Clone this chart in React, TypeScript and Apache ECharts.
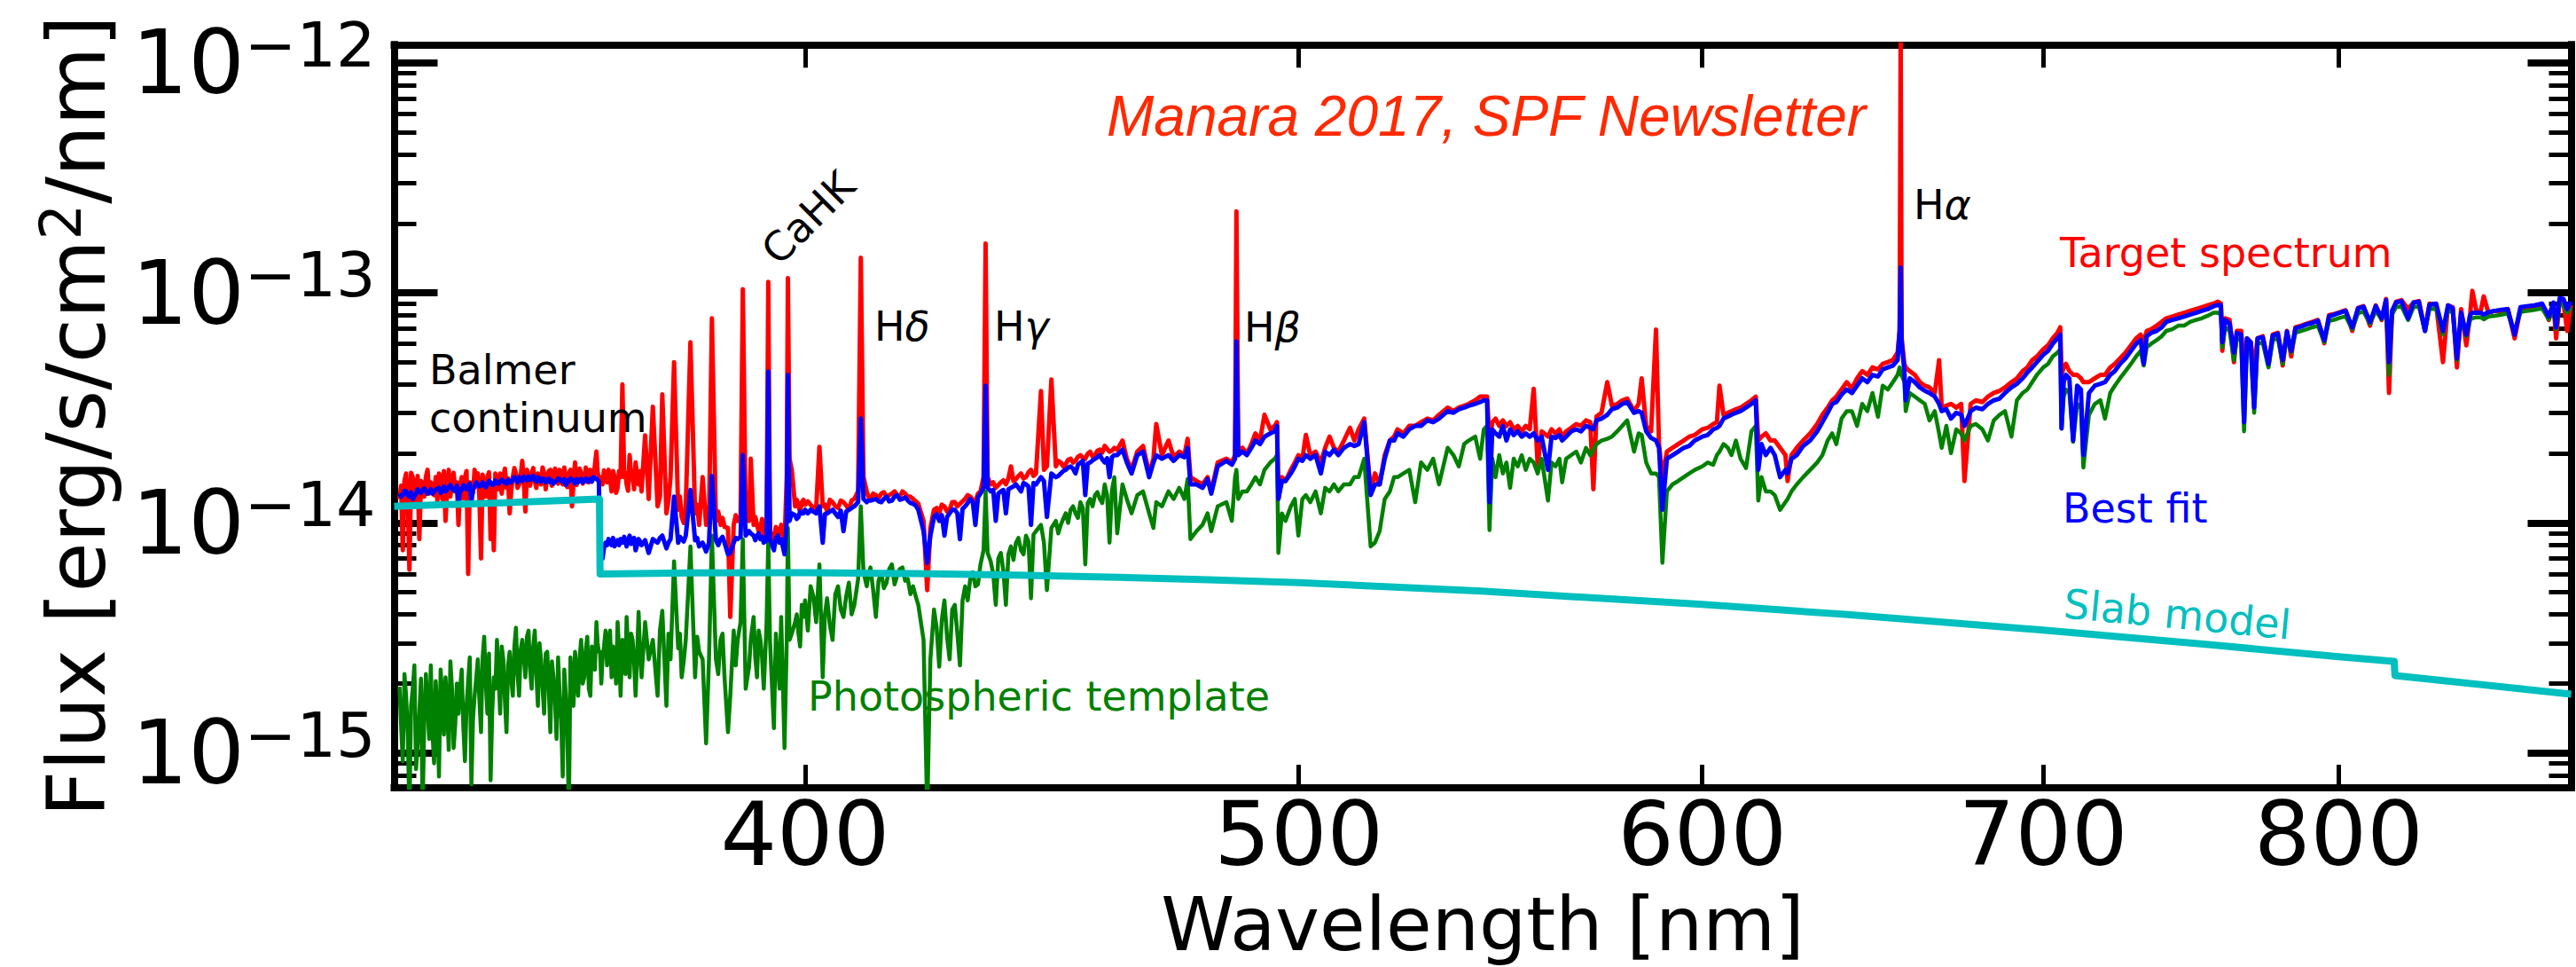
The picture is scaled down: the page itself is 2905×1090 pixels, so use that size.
import React, { useEffect, useRef } from 'react';
import * as echarts from 'echarts';

type Row = [number, number, number, number];

// Fluxes are in units of 1e-15 erg/s/cm²/nm.
// Each row: [wavelength (nm), target spectrum, best fit, photospheric template]
const balmerContinuumRows: Row[] = [
  [333.0, 12.7, 13.4, 1.94], [333.5, 7.6, 13.2, 0.92], [334.0, 16.4, 13.7, 1.77], [334.5, 6.25, 13.0, 0.55],
  [335.0, 15.8, 12.7, 1.9], [335.5, 13.7, 13.4, 0.85], [336.0, 8.5, 13.7, 1.48], [336.5, 14.7, 13.9, 0.55],
  [337.0, 15.8, 13.8, 2.2], [337.5, 13.4, 13.6, 1.15], [338.0, 14.5, 13.4, 1.23], [338.5, 15.8, 13.9, 2.05],
  [339.0, 16.4, 14.2, 0.79], [339.5, 12.7, 13.7, 1.77], [340.0, 10.2, 13.7, 2.13], [340.5, 17.0, 14.3, 1.03],
  [341.0, 15.2, 14.2, 1.9], [341.5, 13.7, 13.9, 1.33], [342.0, 9.8, 12.3, 1.48], [342.5, 15.8, 13.9, 2.3],
  [343.0, 15.8, 14.3, 0.92], [343.5, 6.0, 14.5, 2.05], [344.0, 14.7, 12.3, 0.73], [344.5, 17.0, 14.3, 1.77],
  [345.0, 16.4, 14.7, 2.55], [345.5, 7.0, 14.6, 1.23], [346.0, 14.7, 14.5, 3.2], [346.5, 15.8, 14.8, 1.48],
  [347.0, 8.5, 15.0, 0.76], [347.5, 7.6, 14.7, 2.13], [348.0, 15.2, 15.0, 3.1], [348.5, 16.4, 15.1, 1.48],
  [349.0, 15.8, 15.2, 2.55], [349.5, 14.2, 14.8, 1.23], [350.0, 11.0, 15.0, 2.75], [350.5, 15.8, 15.5, 1.77],
  [351.0, 16.4, 15.4, 3.5], [351.5, 14.7, 15.8, 1.77], [352.0, 18.6, 15.2, 3.1], [352.5, 11.2, 15.7, 2.13],
  [353.0, 15.8, 15.9, 3.4], [353.5, 16.4, 15.5, 1.9], [354.0, 15.2, 15.4, 3.4], [354.5, 16.4, 15.8, 1.6],
  [355.0, 14.7, 15.1, 2.55], [355.5, 16.4, 15.5, 1.48], [356.0, 15.8, 15.2, 2.75], [356.5, 17.0, 15.0, 1.23],
  [357.0, 15.5, 14.8, 2.13], [357.5, 16.4, 15.2, 1.15], [358.0, 17.0, 15.5, 1.77], [358.5, 14.7, 15.1, 0.79],
  [359.0, 15.8, 14.6, 1.77], [359.5, 16.4, 15.1, 0.55], [360.0, 11.8, 15.4, 2.05], [360.5, 18.3, 14.8, 2.75],
  [361.0, 15.8, 15.0, 1.77], [361.5, 16.4, 15.5, 3.1], [362.0, 15.2, 15.4, 2.13], [362.5, 16.7, 15.1, 3.2],
  [363.0, 17.0, 15.5, 1.77], [363.5, 15.8, 15.8, 2.55], [364.0, 20.4, 15.5, 3.7], [364.4, 15.8, 15.1, 2.75],
];

// Finer-scale wiggles of the Balmer continuum region
const balmerContinuumDetail: Row[] = [
  [333.25, 14.5, 13.0, 1.3], [333.75, 15.2, 13.8, 2.2], [334.25, 12.8, 13.2, 1.2], [334.75, 16.5, 13.6, 1.6],
  [335.25, 12.5, 13.1, 2.4], [335.75, 16.0, 14.0, 1.1], [336.25, 15.2, 13.5, 2.1], [336.75, 13.0, 14.1, 1.4],
  [337.25, 17.0, 13.4, 1.6], [337.75, 15.0, 14.0, 2.4], [338.25, 13.2, 13.7, 0.9], [338.75, 12.5, 14.1, 1.5],
  [339.25, 15.5, 13.5, 2.3], [339.75, 16.8, 14.4, 1.2], [340.25, 14.0, 13.9, 1.6], [340.75, 13.0, 14.6, 2.5],
  [341.25, 16.5, 13.8, 1.05], [341.75, 15.0, 14.5, 2.0], [342.25, 14.5, 14.0, 1.9], [342.75, 12.8, 14.6, 1.3],
  [343.25, 16.8, 14.0, 1.6], [343.75, 15.0, 14.8, 2.6], [344.25, 13.5, 14.0, 1.4], [344.75, 15.5, 15.0, 2.1],
  [345.25, 13.0, 14.4, 1.7], [345.75, 16.2, 15.0, 2.6], [346.25, 13.0, 14.3, 2.0], [346.75, 16.6, 15.2, 2.7],
  [347.25, 14.0, 14.6, 1.5], [347.75, 16.4, 15.3, 1.9], [348.25, 14.0, 14.8, 2.2], [348.75, 13.4, 15.4, 2.9],
  [349.25, 17.2, 14.9, 1.7], [349.75, 15.6, 15.4, 2.4], [350.25, 13.8, 15.0, 2.1], [350.75, 17.3, 15.8, 2.9],
  [351.25, 14.2, 15.0, 2.2], [351.75, 16.0, 15.4, 2.8], [352.25, 15.0, 15.9, 2.6], [352.75, 17.0, 15.3, 3.2],
  [353.25, 14.5, 15.4, 2.3], [353.75, 17.3, 16.0, 2.9], [354.25, 14.2, 15.1, 2.2], [354.75, 15.6, 15.5, 3.0],
  [355.25, 17.4, 15.6, 1.9], [355.75, 14.0, 15.0, 2.7], [356.25, 16.8, 15.6, 1.9], [356.75, 14.5, 15.3, 2.5],
  [357.25, 17.2, 15.1, 1.7], [357.75, 14.8, 15.6, 2.6], [358.25, 16.0, 15.2, 1.4], [358.75, 17.4, 15.5, 2.3],
  [359.25, 14.3, 15.3, 1.2], [359.75, 17.0, 15.6, 2.6], [360.25, 15.0, 15.2, 1.6], [360.75, 14.6, 15.5, 2.2],
  [361.25, 17.2, 15.3, 2.6], [361.75, 14.8, 15.0, 2.0], [362.25, 17.4, 15.6, 2.8], [362.75, 15.0, 15.3, 1.9],
  [363.25, 16.4, 15.1, 2.9], [363.75, 17.8, 15.7, 2.3], [364.2, 16.6, 15.4, 3.0],
];

const higherBalmerRows: Row[] = [
  [364.6, 15.8, 7.75, 2.75], [365.0, 14.7, 7.0, 2.55], [365.5, 16.4, 8.2, 3.4], [366.0, 17.0, 8.5, 3.1],
  [366.5, 13.7, 8.0, 2.13], [367.0, 15.8, 7.9, 2.55], [367.5, 14.2, 8.4, 3.7], [368.0, 15.8, 8.5, 1.77],
  [368.3, 40.0, 8.2, 3.1], [368.6, 15.8, 8.7, 2.55], [369.0, 14.7, 7.9, 3.9], [369.5, 19.7, 8.8, 2.13],
  [370.0, 15.8, 8.2, 3.1], [370.5, 18.3, 7.6, 1.77], [371.0, 14.7, 8.5, 4.1], [371.5, 13.7, 8.0, 2.13],
  [372.1, 24.0, 8.4, 3.7], [372.7, 12.7, 7.4, 2.55], [373.4, 32.0, 8.5, 3.1], [374.2, 11.8, 8.2, 1.77],
  [375.0, 36.2, 8.8, 4.15], [375.7, 11.0, 7.75, 1.6], [376.4, 15.8, 8.5, 2.55], [377.0, 50.0, 13.0, 6.8],
  [377.7, 11.4, 8.2, 2.85], [378.3, 10.6, 8.5, 2.13], [379.0, 11.8, 8.8, 3.1], [379.8, 61.0, 13.9, 7.9],
  [380.6, 11.0, 8.4, 2.13], [381.3, 9.8, 7.9, 2.75], [381.9, 15.8, 8.2, 2.55], [382.5, 9.8, 7.5, 1.1],
  [383.0, 10.2, 8.2, 2.55], [383.5, 77.5, 16.0, 8.8], [384.2, 10.2, 8.4, 2.55], [385.0, 9.8, 8.5, 3.1],
  [385.7, 9.6, 8.2, 2.13], [386.3, 9.5, 7.3, 1.23], [386.7, 3.9, 7.4, 1.77], [387.3, 9.8, 8.2, 3.4],
  [388.0, 10.2, 8.5, 3.1], [388.5, 10.6, 8.7, 3.7], [388.9, 103.8, 19.7, 8.5], [389.4, 11.0, 8.8, 1.9],
  [390.0, 10.2, 9.2, 2.37], [390.3, 19.0, 9.0, 3.1], [390.8, 9.8, 8.8, 3.9], [391.4, 9.8, 8.8, 2.13],
  [392.0, 9.5, 8.5, 3.1], [392.6, 8.5, 8.2, 1.9], [393.1, 9.2, 8.4, 3.7], [393.4, 111.7, 45.5, 8.5],
  [393.7, 9.2, 8.5, 3.1], [394.4, 8.5, 7.6, 1.28], [395.1, 9.2, 8.8, 2.55], [395.7, 9.8, 8.5, 3.9],
  [396.3, 8.2, 7.3, 1.05], [396.7, 15.8, 10.2, 3.1], [396.9, 116, 44.0, 9.5], [397.2, 19.0, 10.2, 3.1],
  [397.6, 17.0, 11.0, 3.3], [398.2, 11.8, 10.8, 3.7], [398.8, 11.8, 10.6, 3.3], [399.4, 12.3, 11.0, 4.4],
  [400.0, 12.0, 11.4, 4.6],
];

const higherBalmerDetail: Row[] = [
  [364.8, 15.0, 7.4, 2.0], [365.25, 16.9, 7.8, 2.9], [365.75, 15.0, 8.0, 2.4], [366.25, 15.6, 8.3, 3.4],
  [366.75, 16.8, 8.6, 2.9], [367.25, 13.5, 8.2, 2.0], [367.75, 16.8, 8.0, 2.8], [368.8, 16.5, 8.3, 2.2],
  [369.25, 13.8, 8.4, 2.8], [369.75, 16.2, 8.1, 3.3], [370.25, 14.0, 8.6, 2.5], [370.75, 16.0, 8.0, 2.6],
  [371.25, 16.8, 8.3, 2.8], [374.6, 13.0, 8.6, 3.4], [376.05, 12.5, 8.2, 3.3], [378.0, 13.0, 8.7, 3.3],
  [378.65, 10.0, 8.3, 2.5], [380.95, 12.0, 8.6, 3.2], [384.6, 11.2, 8.0, 2.2], [385.35, 10.5, 8.7, 3.3],
  [387.65, 10.8, 8.6, 2.4], [391.1, 10.6, 8.4, 2.6], [391.7, 9.2, 9.0, 3.4], [392.3, 10.4, 8.7, 2.6],
  [394.75, 9.6, 8.6, 3.3], [395.4, 8.9, 8.2, 1.9], [398.5, 12.6, 10.4, 4.0], [399.1, 11.2, 11.2, 2.9],
  [399.7, 12.6, 11.0, 3.9],
];

const violetRows: Row[] = [
  [401.0, 12.0, 11.4, 5.3], [402.0, 11.4, 11.0, 3.7], [402.6, 21.4, 11.8, 6.6], [403.2, 11.8, 8.2, 2.13],
  [404.0, 11.2, 11.0, 4.7], [405.0, 12.3, 11.4, 3.1], [406.0, 11.6, 10.6, 5.3], [407.0, 12.3, 9.2, 3.9],
  [408.0, 11.4, 11.4, 5.5], [409.0, 12.7, 11.8, 4.4], [409.7, 13.7, 12.3, 5.7], [410.2, 142, 28.4, 11.8],
  [410.7, 15.8, 12.7, 6.1], [411.3, 13.7, 12.3, 5.3], [412.0, 12.7, 12.5, 6.4], [413.0, 13.2, 12.7, 3.9],
  [414.0, 13.4, 12.3, 6.1], [415.0, 13.0, 13.0, 5.5], [416.0, 13.4, 12.5, 6.6], [417.0, 13.2, 13.2, 5.9],
  [418.0, 13.7, 12.7, 6.4], [419.0, 13.0, 12.5, 5.7], [420.0, 12.7, 12.1, 5.3], [421.0, 12.1, 11.4, 4.4],
  [422.0, 10.2, 9.2, 3.1], [422.7, 5.1, 6.7, 0.55], [423.3, 9.5, 8.8, 2.55], [424.0, 11.4, 10.6, 4.2],
  [425.0, 11.0, 10.2, 2.37], [426.0, 11.8, 8.8, 4.6], [427.0, 11.4, 11.0, 2.55], [428.0, 12.3, 11.4, 4.4],
  [429.0, 12.1, 8.5, 2.4], [430.0, 12.7, 11.8, 5.3], [431.0, 13.0, 12.7, 5.7], [432.0, 12.3, 9.8, 5.3],
  [433.0, 13.7, 13.4, 6.6], [433.6, 15.8, 14.2, 7.6], [434.0, 164, 39.5, 13.7], [434.4, 15.8, 14.2, 7.4],
  [435.0, 14.7, 13.7, 6.8], [436.0, 14.2, 10.2, 4.4], [437.0, 15.0, 13.7, 7.4], [438.0, 14.7, 11.0, 4.4],
  [439.0, 17.6, 14.2, 7.9], [440.0, 15.5, 14.7, 8.2], [441.0, 16.4, 13.7, 7.6], [442.0, 15.8, 14.7, 8.8],
  [443.0, 17.0, 9.8, 4.7], [444.0, 16.4, 14.7, 9.2], [445.0, 37.4, 15.8, 9.8], [445.6, 17.0, 15.2, 8.2],
  [446.2, 17.6, 10.6, 5.1], [447.1, 42.0, 16.4, 9.5], [448.0, 17.6, 15.8, 10.2], [449.0, 18.3, 16.4, 9.8],
  [450.0, 18.0, 17.0, 11.0], [451.0, 19.0, 17.6, 11.4], [452.0, 18.6, 16.4, 11.0], [453.0, 19.7, 18.3, 12.3],
  [454.0, 19.0, 13.2, 6.6], [455.0, 20.4, 18.3, 12.7], [456.0, 19.7, 19.0, 13.2], [457.0, 20.8, 19.7, 12.7],
  [458.0, 21.6, 18.3, 14.7], [459.0, 20.4, 15.8, 8.2], [460.0, 21.2, 19.7, 15.8],
];

const violetDetail: Row[] = [
  [400.5, 12.4, 11.0, 3.4], [401.5, 11.6, 11.2, 4.8], [403.6, 12.0, 10.9, 4.0], [404.5, 12.6, 11.2, 3.6],
  [405.5, 11.8, 11.0, 4.9], [406.5, 12.5, 11.3, 4.2], [407.5, 11.9, 11.2, 4.8], [408.5, 12.5, 11.6, 4.0],
  [411.6, 13.0, 12.5, 5.9], [412.5, 13.4, 12.6, 5.1], [413.5, 12.8, 12.4, 5.6], [414.5, 13.6, 12.7, 5.2],
  [415.5, 13.2, 12.4, 6.3], [416.5, 13.7, 13.0, 5.4], [417.5, 13.0, 12.6, 6.3], [418.5, 13.4, 12.9, 5.6],
  [419.5, 13.0, 12.2, 4.9], [420.5, 12.4, 11.9, 4.8], [424.5, 11.6, 10.9, 3.5], [425.5, 12.0, 10.8, 3.8],
  [426.5, 11.2, 10.6, 3.2], [427.5, 12.3, 11.4, 4.2], [428.5, 11.8, 11.0, 3.3], [429.5, 12.4, 11.5, 4.6],
  [430.5, 13.2, 12.2, 4.6], [431.5, 12.6, 12.3, 6.1], [432.5, 13.4, 12.9, 5.4], [435.5, 15.0, 13.9, 6.0],
  [436.5, 14.6, 13.4, 7.0], [437.5, 15.3, 13.9, 6.2], [438.5, 15.6, 14.0, 7.3], [439.5, 15.2, 14.4, 6.9],
  [440.5, 16.0, 14.2, 8.6], [441.5, 15.6, 14.9, 7.3], [442.5, 16.6, 14.4, 8.3], [443.5, 16.0, 14.9, 8.9],
  [448.5, 18.6, 16.0, 9.0], [449.5, 17.6, 16.8, 10.4], [450.5, 18.8, 17.4, 10.0], [451.5, 18.3, 17.2, 11.8],
  [452.5, 19.4, 17.9, 10.5], [453.5, 19.2, 18.6, 11.6], [454.5, 20.0, 18.1, 12.2], [455.5, 19.4, 18.7, 11.8],
  [456.5, 20.6, 19.3, 13.6], [457.5, 20.2, 18.9, 12.2], [458.5, 21.0, 19.1, 13.2], [459.5, 20.6, 19.3, 13.8],
];

const blueGreenRows: Row[] = [
  [460.6, 20.8, 19.7, 9.0], [461.7, 22.8, 20.8, 14.7], [462.6, 19.0, 18.3, 12.7], [463.6, 17.0, 16.4, 11.0],
  [464.8, 20.4, 19.7, 13.2], [466.0, 21.6, 20.4, 13.7], [467.3, 16.4, 15.8, 11.0], [468.2, 19.0, 18.3, 9.5],
  [468.8, 26.9, 19.7, 12.3], [470.0, 19.7, 19.0, 11.8], [471.4, 22.8, 19.7, 13.7], [472.5, 19.3, 18.6, 12.7],
  [473.7, 20.4, 19.7, 14.2], [474.8, 19.7, 19.3, 12.7], [475.5, 23.2, 21.2, 15.5], [476.1, 15.8, 14.7, 8.5],
  [477.4, 15.2, 14.7, 9.2], [478.7, 14.7, 14.2, 9.8], [479.8, 15.8, 15.5, 11.0], [480.6, 13.7, 13.4, 9.2],
  [482.0, 18.3, 17.6, 11.8], [483.9, 19.0, 18.6, 12.3], [485.1, 18.3, 17.9, 10.2], [485.8, 19.7, 19.0, 15.8],
  [486.1, 226, 61.6, 17.0], [486.5, 20.4, 19.7, 12.7], [487.4, 21.2, 20.4, 13.7], [488.4, 20.0, 19.7, 13.7],
  [489.4, 22.0, 21.2, 14.7], [490.3, 24.5, 22.8, 15.8], [491.3, 22.8, 22.0, 14.7], [492.3, 29.5, 23.7, 17.0],
  [493.6, 25.5, 24.5, 18.3], [494.6, 26.4, 25.0, 19.0], [495.1, 27.4, 26.4, 19.7], [495.4, 12.7, 12.7, 7.4],
  [496.2, 15.8, 15.2, 11.0], [497.0, 15.2, 15.2, 10.2], [498.2, 17.0, 16.4, 11.8], [499.1, 18.3, 17.6, 12.7],
  [499.9, 19.7, 19.0, 8.8], [500.8, 19.0, 18.6, 12.7], [501.6, 24.1, 19.7, 13.2], [502.6, 19.7, 19.0, 12.3],
  [503.8, 20.4, 19.7, 13.7], [505.0, 18.3, 16.4, 11.0], [506.0, 21.2, 20.4, 14.2], [507.0, 23.7, 19.7, 13.7],
  [508.0, 21.2, 20.8, 14.7], [509.0, 20.4, 19.7, 13.7], [510.3, 22.8, 21.2, 14.7], [511.7, 25.9, 22.0, 14.7],
  [512.7, 22.8, 21.6, 15.8], [513.7, 25.5, 22.0, 15.8], [515.0, 28.4, 27.4, 19.0], [516.5, 13.7, 13.2, 7.9],
  [517.5, 16.4, 14.7, 8.2], [518.6, 14.7, 14.7, 9.2], [519.8, 19.7, 19.0, 12.7], [521.0, 22.8, 22.8, 13.7],
  [522.0, 23.7, 22.8, 15.8], [522.8, 25.5, 24.5, 15.8], [524.2, 24.5, 23.7, 16.4], [525.6, 26.4, 25.5, 17.0],
  [527.0, 26.4, 26.4, 12.3], [528.4, 27.4, 26.4, 18.3], [529.9, 28.4, 27.9, 17.0], [531.3, 27.9, 27.4, 19.0],
  [532.7, 29.5, 28.4, 14.7], [534.8, 31.7, 30.6, 21.2], [536.2, 30.6, 30.1, 19.7], [537.5, 31.7, 31.2, 17.6],
  [538.8, 32.3, 31.7, 22.0], [539.9, 32.9, 32.3, 22.8], [541.5, 34.1, 32.9, 23.7], [542.7, 35.4, 33.5, 19.0],
  [543.6, 35.4, 34.1, 25.5], [544.4, 35.4, 34.1, 26.4],
];

const yellowRows: Row[] = [
  [545.0, 22.8, 12.3, 9.3], [545.7, 27.4, 25.5, 19.0], [546.5, 28.4, 24.5, 15.8], [547.4, 26.4, 23.7, 19.7],
  [548.3, 27.9, 26.4, 16.4], [549.2, 26.4, 22.8, 18.3], [550.1, 27.4, 25.5, 14.2], [551.0, 25.5, 24.1, 19.0],
  [552.0, 26.4, 25.0, 17.6], [553.0, 25.0, 23.7, 19.7], [554.0, 26.4, 24.5, 17.0], [555.0, 25.5, 23.7, 19.0],
  [556.0, 38.3, 24.5, 18.3], [557.0, 17.9, 22.8, 16.4], [558.0, 25.0, 23.7, 19.0], [559.6, 23.7, 17.0, 12.5],
  [560.5, 25.5, 23.7, 18.3], [561.5, 24.5, 23.4, 17.6], [562.5, 25.5, 24.1, 19.0], [563.2, 23.7, 22.8, 15.0],
  [564.2, 25.0, 23.7, 19.0], [565.5, 25.9, 25.0, 19.7], [566.8, 26.9, 25.5, 20.4], [568.0, 26.4, 25.0, 18.3],
  [569.3, 27.9, 26.4, 21.2], [570.4, 27.4, 25.9, 19.7], [571.2, 14.0, 25.5, 20.8], [572.0, 29.0, 27.9, 22.0],
  [573.3, 30.1, 28.4, 22.8], [574.8, 40.9, 29.5, 23.2], [576.0, 32.3, 31.2, 23.7], [577.4, 32.9, 31.7, 25.0],
  [578.7, 34.1, 32.9, 26.4], [580.0, 34.7, 33.5, 27.9], [581.8, 30.6, 30.1, 20.4], [583.0, 32.9, 30.6, 24.5],
  [583.8, 42.5, 30.1, 24.1], [585.0, 26.4, 25.0, 18.3], [586.3, 25.0, 23.4, 16.4], [587.6, 69.3, 22.8, 16.4],
  [588.4, 22.0, 21.2, 15.8], [589.3, 15.8, 11.4, 6.7], [590.5, 20.4, 19.0, 13.7], [592.0, 21.2, 19.7, 14.7],
  [593.5, 22.0, 20.4, 15.2], [595.0, 22.8, 21.2, 15.8], [596.5, 23.7, 21.6, 16.4], [598.0, 24.1, 22.8, 17.0],
  [600.0, 25.5, 23.7, 17.6], [601.5, 25.9, 24.1, 18.3], [603.0, 26.9, 25.5, 17.9], [604.0, 27.4, 25.9, 19.7],
  [604.7, 39.5, 26.4, 20.4], [605.8, 29.5, 28.4, 22.0], [607.0, 30.1, 29.0, 21.2], [608.0, 30.6, 29.5, 19.7],
  [609.2, 31.2, 30.1, 22.8], [610.5, 31.7, 30.6, 19.0], [612.0, 32.9, 31.7, 17.3], [613.5, 34.1, 32.9, 25.0],
  [614.7, 35.4, 34.1, 26.4], [615.4, 22.8, 17.0, 12.5], [616.3, 23.7, 22.0, 15.8], [617.5, 24.5, 19.7, 13.7],
  [618.8, 22.8, 21.2, 13.7], [620.0, 22.8, 19.7, 13.2], [621.5, 21.2, 15.8, 11.4], [623.0, 19.7, 17.0, 12.3],
  [623.6, 15.2, 16.4, 12.7], [624.7, 19.7, 19.0, 13.7], [626.2, 21.2, 19.7, 14.7], [628.0, 22.8, 21.6, 15.8],
  [630.0, 24.5, 22.8, 17.0], [632.0, 26.9, 25.0, 18.3], [633.5, 29.5, 27.4, 19.7], [635.0, 31.7, 30.1, 22.8],
  [636.3, 34.1, 32.9, 24.5], [637.5, 35.4, 33.5, 22.0], [639.0, 38.0, 36.1, 28.4], [640.5, 40.9, 38.0, 30.6],
];

const redRows: Row[] = [
  [642.0, 38.4, 36.7, 30.6], [643.5, 42.5, 39.5, 26.4], [645.0, 45.7, 42.5, 32.9], [646.5, 44.0, 40.9, 30.6],
  [648.0, 47.4, 44.0, 36.7], [649.6, 46.5, 43.3, 28.9], [651.0, 49.1, 46.5, 39.5], [652.5, 50.0, 47.4, 38.0],
  [654.0, 51.0, 48.3, 40.9], [655.4, 55.0, 51.0, 44.0], [656.0, 68.3, 68.3, 47.4], [656.3, 1300, 129, 44.0],
  [656.6, 63.4, 61.0, 44.0], [657.4, 49.1, 45.7, 40.9], [657.8, 47.4, 34.1, 30.6], [659.0, 45.7, 42.5, 36.7],
  [660.5, 44.0, 40.9, 35.4], [662.0, 40.9, 38.8, 34.1], [663.5, 39.5, 37.5, 32.9], [664.9, 38.8, 36.7, 27.9],
  [666.5, 36.7, 35.4, 30.6], [667.8, 51.0, 32.9, 24.5], [668.6, 31.7, 30.6, 21.2], [670.0, 32.3, 31.2, 26.4],
  [671.4, 32.9, 28.4, 20.1], [673.0, 31.7, 30.1, 25.5], [674.5, 32.9, 29.5, 24.5], [675.5, 15.2, 26.4, 22.8],
  [677.4, 32.9, 30.6, 26.4], [679.0, 34.1, 31.7, 26.9], [681.0, 33.5, 31.2, 25.5], [682.7, 35.4, 32.9, 22.8],
  [684.5, 36.7, 34.1, 27.9], [686.3, 37.5, 34.7, 29.5], [688.0, 38.8, 36.7, 30.6], [690.0, 40.9, 38.8, 23.7],
  [691.7, 42.5, 40.2, 34.1], [693.5, 45.7, 42.5, 36.7], [695.0, 47.4, 45.1, 38.0], [696.5, 51.0, 47.4, 40.9],
  [698.0, 52.9, 50.0, 44.0], [700.0, 56.9, 53.8, 47.4], [701.5, 59.1, 55.9, 49.1], [703.0, 63.4, 60.1, 52.9],
  [704.5, 67.0, 63.4, 55.0], [705.4, 70.8, 65.8, 56.9], [705.8, 44.0, 25.7, 25.7], [706.5, 47.4, 40.9, 35.4],
  [707.2, 49.1, 44.0, 38.0], [708.3, 45.7, 42.5, 36.7], [709.5, 44.0, 22.8, 22.5], [710.8, 44.0, 39.5, 32.9],
  [712.0, 42.5, 38.0, 31.7], [712.8, 40.9, 19.7, 17.4], [714.6, 40.9, 36.7, 29.5], [716.5, 42.5, 39.5, 32.9],
  [718.3, 44.0, 40.2, 34.1], [719.8, 44.0, 40.9, 28.4], [721.5, 47.4, 44.0, 36.7], [723.0, 49.1, 45.7, 39.5],
  [724.7, 51.9, 49.1, 42.5], [726.5, 55.0, 51.9, 45.7], [728.3, 59.1, 55.9, 49.1], [730.0, 63.4, 60.1, 52.9],
  [731.5, 65.8, 62.3, 55.9], [732.5, 61.0, 49.1, 48.3], [733.5, 68.3, 64.8, 58.0], [735.0, 69.5, 67.0, 60.1],
  [736.8, 72.0, 68.3, 62.3], [738.5, 74.8, 70.8, 64.8], [740.0, 77.5, 74.8, 68.3], [742.0, 78.9, 76.2, 69.5],
  [744.0, 80.4, 77.5, 72.0], [746.0, 81.9, 78.9, 72.0], [748.0, 83.5, 80.4, 74.8], [750.0, 85.0, 81.9, 76.2],
  [752.0, 86.6, 83.5, 77.5], [754.0, 88.2, 85.0, 79.5], [756.0, 89.8, 87.5, 81.9],
];

const nearInfraredRows: Row[] = [
  [757.5, 91.5, 88.5, 81.9], [758.5, 89.8, 88.2, 80.4], [759.0, 56.0, 61.0, 58.0], [760.0, 77.5, 76.2, 70.8],
  [761.5, 76.2, 73.4, 68.3], [763.0, 50.0, 55.0, 51.0], [764.0, 68.3, 67.0, 63.4], [765.5, 68.3, 65.8, 62.3],
  [766.5, 44.0, 27.4, 25.0], [767.5, 63.4, 63.4, 60.1], [768.8, 61.0, 61.0, 58.0], [770.0, 47.4, 31.7, 30.1],
  [771.2, 63.4, 63.4, 60.1], [773.0, 64.8, 64.1, 60.7], [775.0, 48.3, 49.1, 47.4], [776.5, 65.8, 65.3, 62.3],
  [778.3, 67.0, 66.3, 63.4], [780.0, 48.3, 51.0, 49.1], [781.5, 68.3, 67.8, 64.8], [783.0, 52.9, 55.9, 55.0],
  [784.5, 70.8, 70.1, 67.0], [786.5, 72.0, 71.3, 68.3], [788.5, 73.4, 72.9, 69.5], [790.5, 74.8, 74.0, 70.8],
  [792.5, 76.2, 75.7, 72.0], [794.8, 60.4, 62.3, 61.0], [796.5, 80.0, 79.0, 75.5], [798.5, 81.0, 80.5, 76.5],
  [800.5, 82.5, 82.0, 78.0], [802.5, 84.0, 83.5, 79.0], [804.9, 68.3, 70.8, 69.5], [807.0, 86.0, 85.5, 81.5],
  [809.0, 87.5, 87.0, 83.0], [811.4, 72.0, 74.8, 73.4], [813.5, 88.2, 87.5, 83.5], [815.7, 76.2, 77.5, 76.7],
  [817.3, 94.1, 93.0, 88.8], [818.4, 36.7, 50.0, 44.0], [819.5, 81.9, 83.5, 80.4], [821.0, 91.5, 90.8, 86.6],
  [823.0, 93.0, 92.1, 87.5], [825.5, 85.0, 77.5, 76.2], [827.5, 90.8, 90.8, 86.6], [829.5, 92.1, 91.5, 87.5],
  [831.8, 68.3, 68.3, 68.3], [833.5, 89.8, 88.8, 85.0], [836.0, 88.8, 89.8, 85.6], [838.6, 50.0, 68.3, 65.8],
  [840.5, 88.2, 88.2, 84.4], [842.3, 86.6, 85.6, 81.9], [843.9, 47.4, 51.9, 51.0], [845.5, 85.0, 81.9, 78.3],
  [847.5, 59.1, 65.8, 64.8], [849.0, 81.9, 80.4, 76.7], [849.8, 102, 81.9, 77.5], [851.5, 81.9, 81.9, 78.3],
  [853.0, 83.5, 81.9, 78.3], [854.2, 96.5, 80.4, 76.7], [856.0, 81.9, 82.5, 78.9], [858.5, 83.5, 83.5, 79.5],
  [861.0, 83.5, 84.4, 80.4], [863.5, 85.0, 85.0, 81.4], [866.2, 63.4, 65.8, 67.0], [868.5, 85.6, 86.6, 82.5],
  [871.0, 86.6, 87.5, 83.5], [874.0, 87.5, 88.2, 84.4], [877.0, 88.8, 89.8, 85.6], [879.7, 76.2, 78.9, 76.7],
  [881.5, 89.8, 90.8, 86.6], [882.6, 63.4, 70.8, 69.5], [884.0, 93.0, 94.8, 89.8], [885.5, 91.5, 94.1, 88.8],
  [887.0, 68.3, 85.0, 81.9], [888.5, 88.2, 91.5, 86.6],
];

// Slab model: [wavelength (nm), flux in 1e-15 erg/s/cm²/nm]
const slabModel: [number, number][] = [
  [332.2, 11.8], [348.0, 12.2], [364.5, 12.7], [364.6, 6.0], [380.0, 6.06], [400.0, 6.08],
  [420.0, 6.02], [440.0, 5.93], [461.0, 5.8], [480.0, 5.66], [500.0, 5.5], [543.0, 5.05],
  [600.0, 4.42], [640.0, 4.0], [700.0, 3.42], [755.0, 2.95], [800.0, 2.62], [820.3, 2.5],
  [820.6, 2.17], [888.6, 1.8],
];

const wavelengthTicks = [400, 500, 600, 700, 800];
const fluxTickExponents = [-15, -14, -13, -12];
const minorTickMantissas = [2, 3, 4, 5, 6, 7, 8, 9];

const FLUX_UNIT = 1e-15;
const X_MIN = 332.2;
const X_MAX = 888.6;
const Y_MIN = 7.05e-16;
const Y_MAX = 1.2e-12;

const FONT = 'DejaVu Sans';

function buildOption() {
  const rows = [
    ...balmerContinuumRows, ...balmerContinuumDetail, ...higherBalmerRows, ...higherBalmerDetail,
    ...violetRows, ...violetDetail, ...blueGreenRows, ...yellowRows, ...redRows, ...nearInfraredRows,
  ].sort((a, b) => a[0] - b[0]);
  const column = (i: number) => rows.map((r) => [r[0], r[i] * FLUX_UNIT]);
  const slab = slabModel.map(([w, f]) => [w, f * FLUX_UNIT]);

  const majorFlux = fluxTickExponents.map((e) => Math.pow(10, e));
  const minorFlux = [fluxTickExponents[0] - 1, ...fluxTickExponents]
    .flatMap((e) => minorTickMantissas.map((m) => m * Math.pow(10, e)))
    .filter((v) => v > Y_MIN && v < Y_MAX);

  const spectrum = (name: string, data: number[][], color: string, width: number) => ({
    type: 'line', name, data, xAxisIndex: 0, yAxisIndex: 0,
    showSymbol: false, symbol: 'none', silent: true, clip: true,
    emphasis: { disabled: true },
    lineStyle: { color, width, join: 'round', cap: 'butt' },
  });

  const frame = { show: true, lineStyle: { color: '#000', width: 8, cap: 'square' } };
  const noFrame = { show: false };
  const xTicks = { show: true, inside: true, length: 26, customValues: wavelengthTicks, lineStyle: { color: '#000', width: 5 } };
  const yMajorTicks = { show: true, inside: true, length: 49, customValues: majorFlux, lineStyle: { color: '#000', width: 8 } };
  const yMinorTicks = { show: true, inside: true, length: 25, customValues: minorFlux, lineStyle: { color: '#000', width: 5 } };

  const xBase = { type: 'log', logBase: 10, min: X_MIN, max: X_MAX, gridIndex: 0, splitLine: { show: false }, minorTick: { show: false } };
  const yBase = { type: 'log', logBase: 10, min: Y_MIN, max: Y_MAX, gridIndex: 0, splitLine: { show: false }, minorTick: { show: false } };

  const text = (content: string, x: number, y: number, fill: string, extra: any = {}) => ({
    type: 'text', x, y, silent: true, z: 100, rotation: extra.rotation || 0,
    style: {
      text: content, fill, fontSize: extra.fontSize || 46, fontFamily: extra.fontFamily || FONT,
      fontStyle: extra.fontStyle || 'normal',
      align: extra.align || 'left', verticalAlign: 'middle',
      textAlign: extra.align || 'left', textVerticalAlign: 'middle',
      rich: { g: { fontStyle: 'italic', fontSize: 46, fontFamily: FONT, fill } },
    },
  });

  return {
    animation: false,
    backgroundColor: '#fff',
    textStyle: { fontFamily: FONT },
    grid: { left: 444.5, right: 5.5, top: 50.3, bottom: 202, containLabel: false, outerBoundsMode: 'none' },
    xAxis: [
      {
        ...xBase, position: 'bottom', axisLine: frame, axisTick: xTicks,
        axisLabel: {
          show: true, customValues: wavelengthTicks, margin: 2, color: '#000',
          fontSize: 100, lineHeight: 100, fontFamily: FONT, formatter: (v: number) => String(Math.round(v)),
        },
        name: 'Wavelength [nm]', nameLocation: 'middle', nameGap: 112,
        nameTextStyle: { color: '#000', fontSize: 84, lineHeight: 84, fontFamily: FONT },
      },
      { ...xBase, position: 'top', axisLine: frame, axisTick: xTicks, axisLabel: { show: false } },
    ],
    yAxis: [
      {
        ...yBase, position: 'left', axisLine: frame, axisTick: yMajorTicks,
        axisLabel: {
          show: true, customValues: majorFlux, margin: 21, color: '#000',
          formatter: (v: number) => `{b|10}{s|−${Math.abs(Math.round(Math.log10(v)))}}`,
          rich: {
            b: { fontSize: 100, lineHeight: 110, fontFamily: FONT, color: '#000' },
            s: { fontSize: 70, lineHeight: 60, fontFamily: FONT, color: '#000', verticalAlign: 'top' },
          },
        },
        name: '{n|Flux [erg/s/cm}{s|2}{n|/nm]}', nameLocation: 'middle', nameGap: 308,
        nameTextStyle: {
          color: '#000',
          rich: {
            n: { fontSize: 91, lineHeight: 100, fontFamily: FONT, color: '#000' },
            s: { fontSize: 64, lineHeight: 44, fontFamily: FONT, color: '#000', verticalAlign: 'top' },
          },
        },
      },
      { ...yBase, position: 'left', axisLine: noFrame, axisTick: yMinorTicks, axisLabel: { show: false } },
      { ...yBase, position: 'right', axisLine: frame, axisTick: yMajorTicks, axisLabel: { show: false } },
      { ...yBase, position: 'right', axisLine: noFrame, axisTick: yMinorTicks, axisLabel: { show: false } },
    ],
    series: [
      spectrum('Target spectrum', column(1), '#ff0000', 5),
      spectrum('Photospheric template', column(3), '#008000', 4.5),
      spectrum('Best fit', column(2), '#0000ff', 5),
      spectrum('Slab model', slab, '#00bfbf', 8),
    ],
    graphic: {
      elements: [
        text('Manara 2017, SPF Newsletter', 1248, 130.8, '#ff2a00', { fontSize: 64, fontFamily: 'Liberation Sans', fontStyle: 'italic' }),
        text('Balmer', 484, 417.1, '#000'),
        text('continuum', 484, 470.6, '#000'),
        text('CaHK', 911.5, 245.5, '#000', { align: 'center', rotation: Math.PI / 4 }),
        text('H{g|δ}', 986, 368.1, '#000'),
        text('H{g|γ}', 1121, 368.1, '#000'),
        text('H{g|β}', 1403, 369.1, '#000'),
        text('H{g|α}', 2158, 231.1, '#000'),
        text('Target spectrum', 2323, 285.1, '#ff0000'),
        text('Best fit', 2326, 573.1, '#0000ff'),
        text('Slab model', 2327.5, 680.2, '#00bfbf', { rotation: (-5.5 * Math.PI) / 180 }),
        text('Photospheric template', 911, 785.1, '#008000'),
      ],
    },
  };
}

export default function App() {
  const ref = useRef<HTMLDivElement>(null);
  useEffect(() => {
    if (!ref.current) return;
    const chart = echarts.init(ref.current, undefined, { renderer: 'svg' });
    chart.setOption(buildOption() as any);
    return () => chart.dispose();
  }, []);
  return (
    <div
      ref={ref}
      style={{ position: 'absolute', left: 0, top: 0, width: 2905, height: 1090, background: '#fff' }}
    />
  );
}
